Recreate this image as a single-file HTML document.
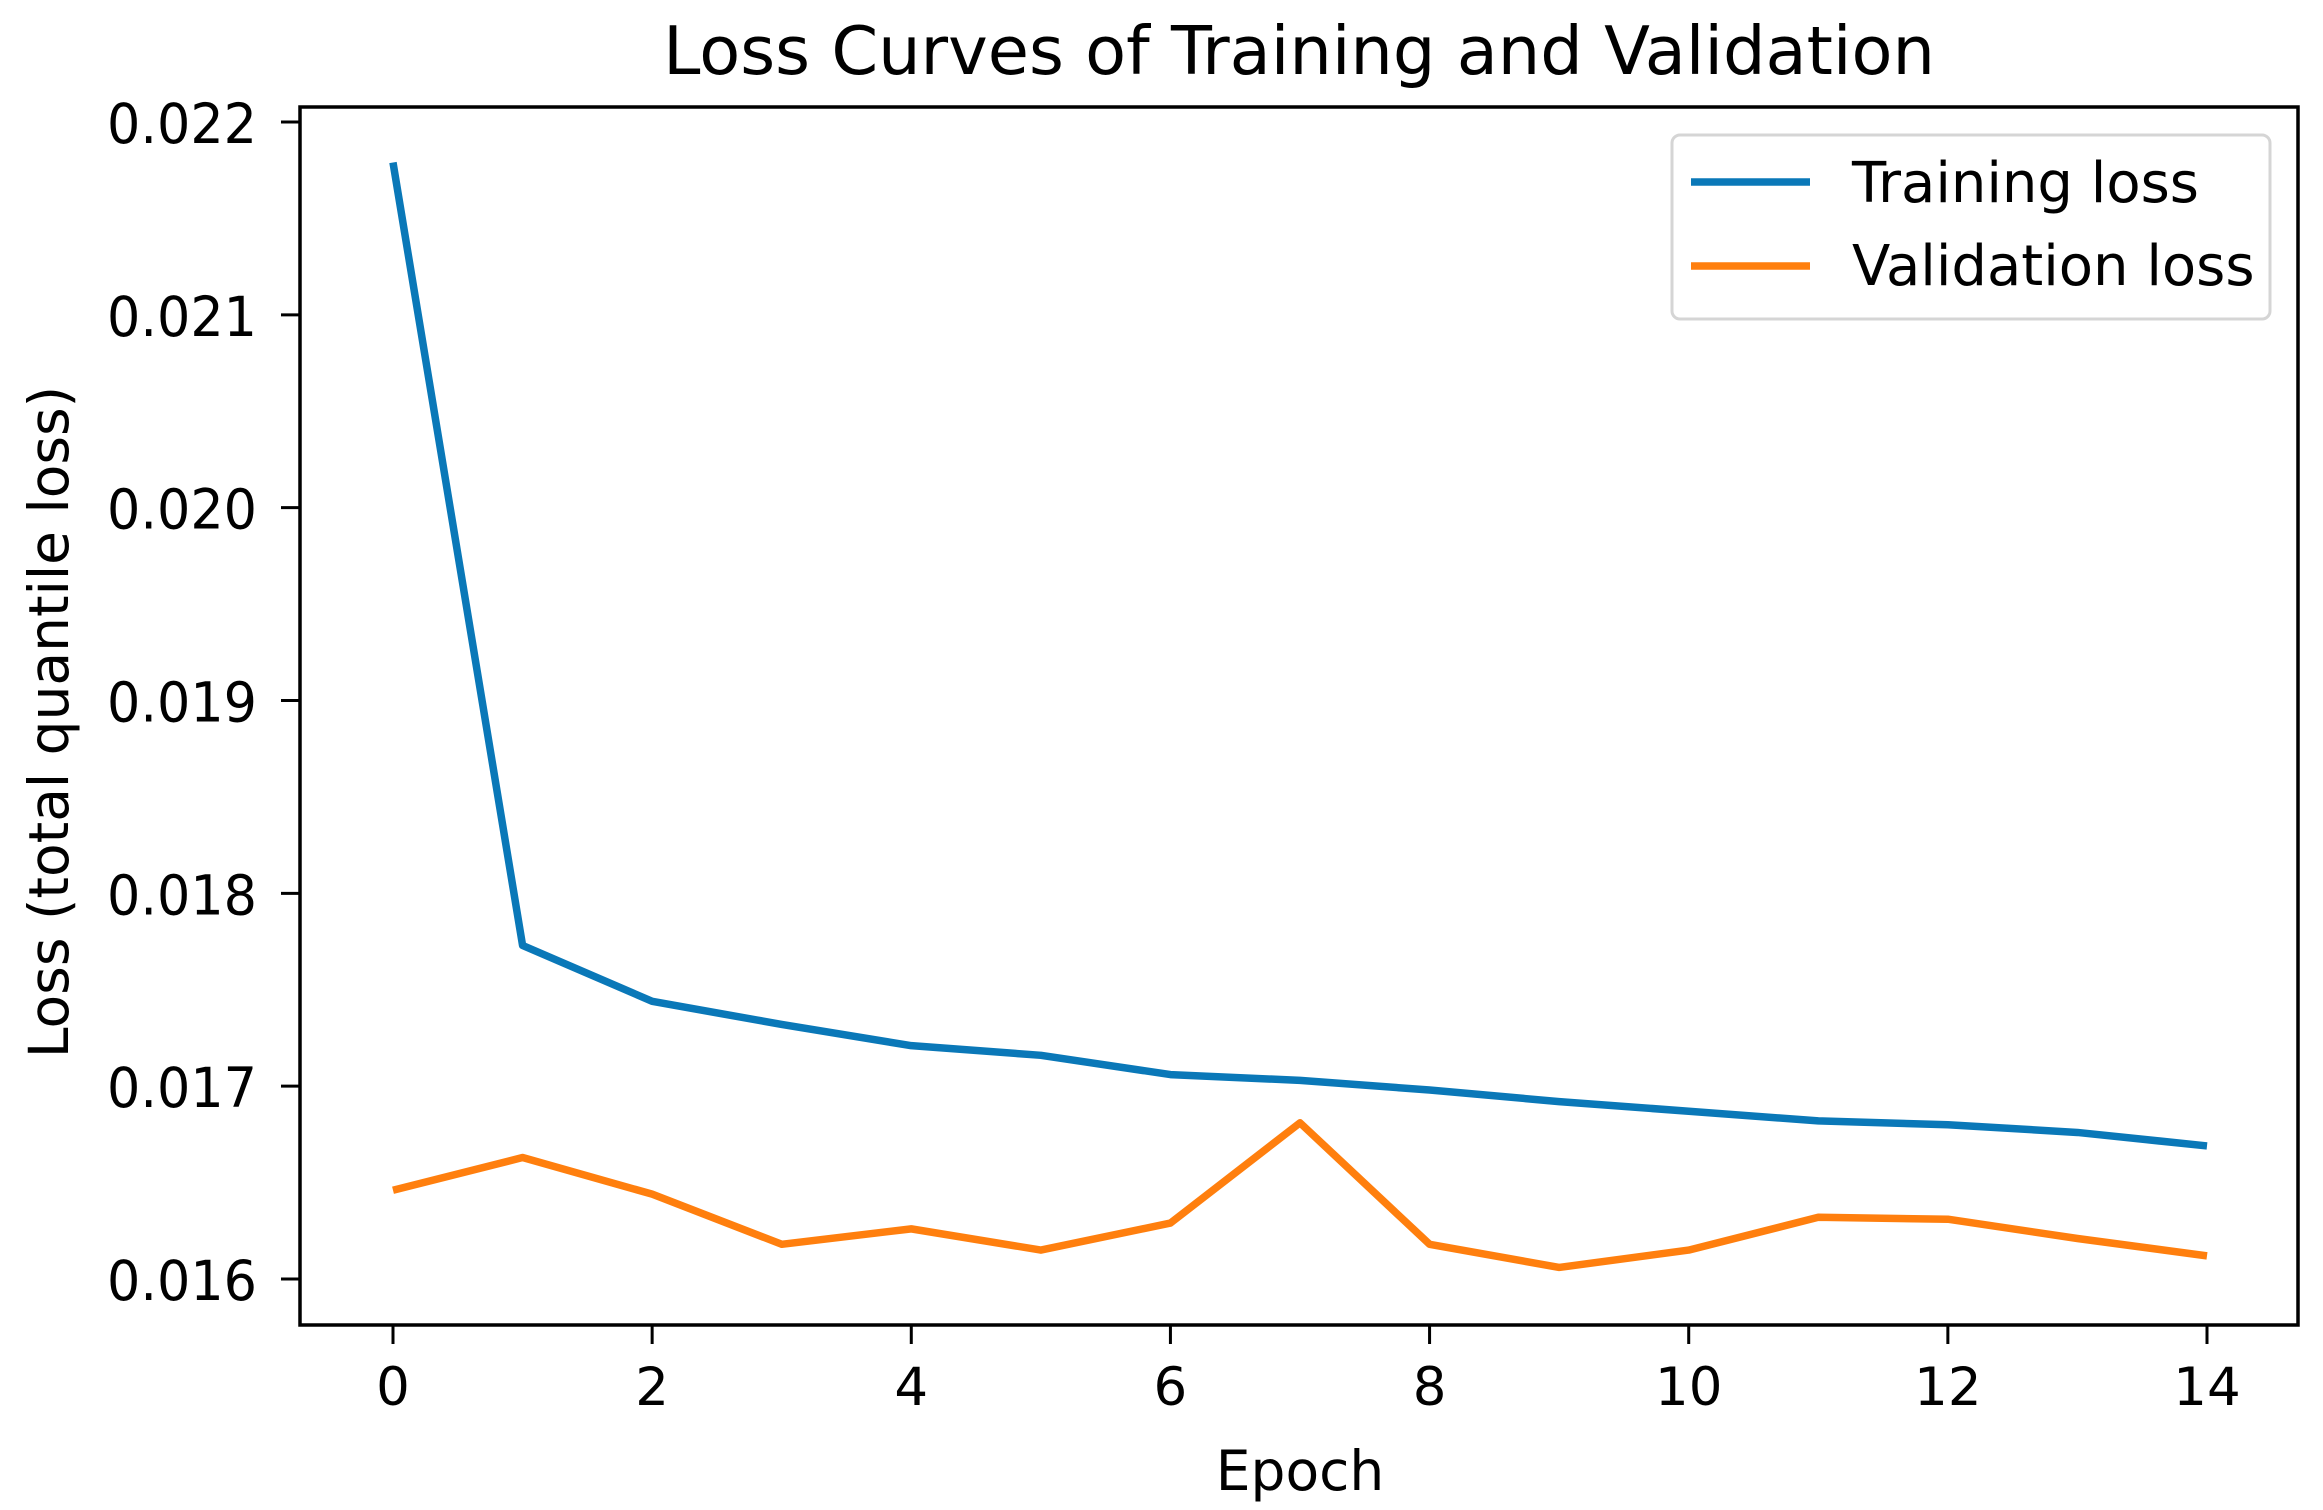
<!DOCTYPE html>
<html><head><meta charset="utf-8"><style>
html,body{margin:0;padding:0;background:#fff;}
svg{display:block;font-family:"DejaVu Sans","Liberation Sans",sans-serif;}
</style></head><body>
<svg id="chart" width="2323" height="1510" viewBox="0 0 2323 1510" xmlns="http://www.w3.org/2000/svg">
<rect width="2323" height="1510" fill="#fff"/>
<text x="1299" y="74" font-size="67" text-anchor="middle">Loss Curves of Training and Validation</text>
<g id="plot"></g>
<text x="1300" y="1490" font-size="55" text-anchor="middle">Epoch</text>
<text transform="translate(68,722) rotate(-90)" font-size="55" text-anchor="middle">Loss (total quantile loss)</text>
</svg>
<script>
const epochs=[0,1,2,3,4,5,6,7,8,9,10,11,12,13,14];
const trainingLoss=[0.02179,0.01773,0.01744,0.01732,0.01721,0.01716,0.01706,0.01703,0.01698,0.01692,0.01687,0.01682,0.01680,0.01676,0.01669];
const validationLoss=[0.01646,0.01663,0.01644,0.01618,0.01626,0.01615,0.01629,0.01681,0.01618,0.01606,0.01615,0.01632,0.01631,0.01621,0.01612];
const xTicks=[0,2,4,6,8,10,12,14];
const yTicks=[0.016,0.017,0.018,0.019,0.020,0.021,0.022];
const yTickLabels=["0.016","0.017","0.018","0.019","0.020","0.021","0.022"];

const L=300,R=2298,T=107,B=1325;
const xs=v=>393+(v-0)*(2207-393)/14;
const ys=v=>1279-(v-0.016)*(1279-122)/0.006;
const NS="http://www.w3.org/2000/svg";
const g=document.getElementById('plot');
function mk(tag,attrs){const e=document.createElementNS(NS,tag);for(const k in attrs)e.setAttribute(k,attrs[k]);g.appendChild(e);return e;}

function series(vals,color,name){
  const d=vals.map((v,i)=>(i?'L':'M')+xs(epochs[i])+','+ys(v)).join(' ');
  const p=mk('path',{d:d,fill:'none',stroke:color,'stroke-width':7.5,'stroke-linejoin':'round','stroke-linecap':'butt'});
  
  
}
series(trainingLoss,'#0a78b8','training-loss-line');
series(validationLoss,'#ff7f0e','validation-loss-line');

const frame=mk('rect',{x:L,y:T,width:R-L,height:B-T,fill:'none',stroke:'#000','stroke-width':3.5});



xTicks.forEach(t=>{
  const x=xs(t);
  const tk=mk('line',{x1:x,x2:x,y1:B,y2:B+19,stroke:'#000','stroke-width':3});
  
  
  const tx=mk('text',{x:x,y:1405,'font-size':53,'text-anchor':'middle'});
  tx.textContent=String(t);
  
  
});
yTicks.forEach((t,i)=>{
  const y=ys(t);
  const tk=mk('line',{x1:L-19,x2:L,y1:y,y2:y,stroke:'#000','stroke-width':3});
  
  
  const tx=mk('text',{x:257,y:y+21,'font-size':55,'text-anchor':'end',textLength:150,lengthAdjust:'spacingAndGlyphs'});
  tx.textContent=yTickLabels[i];
  
  
});

const lg=mk('rect',{x:1672,y:135,width:598,height:184,rx:8,fill:'#fff',stroke:'#d5d5d5','stroke-width':3});


[['Training loss','#0a78b8',182,202],['Validation loss','#ff7f0e',266,285]].forEach(([lab,c,y,by])=>{
  const ln=mk('line',{x1:1691,x2:1810,y1:y,y2:y,stroke:c,'stroke-width':7.5});
  
  
  const tx=mk('text',{x:1852,y:by,'font-size':56});
  tx.textContent=lab;
  
  
});
</script>
</body></html>
